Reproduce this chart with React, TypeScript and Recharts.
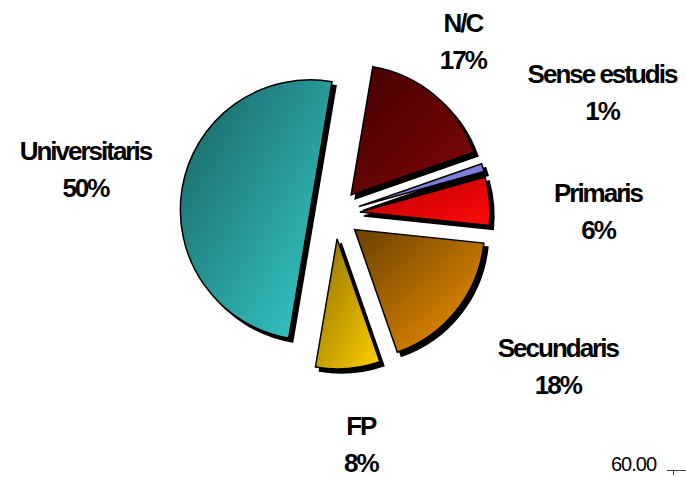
import { PieChart, Pie, Cell } from 'recharts'

// share of respondents by level of studies (%)
const categories = ['N/C', 'Sense estudis', 'Primaris', 'Secundaris', 'FP', 'Universitaris']
const shares = [17, 1, 6, 18, 8, 50]
const percentLabels = ['17%', '1%', '6%', '18%', '8%', '50%']

// dark -> light diagonal shading per slice
const gradientStops = [
  ['#450000', '#800808'],
  ['#6a6ac8', '#9090f0'],
  ['#b80000', '#ff0a0a'],
  ['#6a4000', '#f59400'],
  ['#8c6e00', '#ffcf00'],
  ['#1a6262', '#36cdcd'],
]

// label placement (distance from label origin, angle nudge in degrees)
const labelRadius = [217, 295, 264, 270, 230, 253]
const labelNudge = [3.8, 7.3, -3.9, 4.4, 1.9, -1.1]

const data = categories.map((name, i) => ({ name, value: shares[i] }))

const CX = 330
const CY = 209
const LABEL_CX = 334
const LABEL_CY = 215
const R = 130
const EXPLODE = 25
const START = 80.4
const SHADOW = 4

const total = shares.reduce((a, b) => a + b, 0)
const midAngles = shares.map((v, i) => {
  const before = shares.slice(0, i).reduce((a, b) => a + b, 0)
  return START - ((before + v / 2) / total) * 360
})
const offsets = midAngles.map((a) => ({
  dx: EXPLODE * Math.cos((a * Math.PI) / 180),
  dy: -EXPLODE * Math.sin((a * Math.PI) / 180),
}))

const font = '"Liberation Sans", Arial, sans-serif'

function SliceLabel(props: any, i: number) {
  const name = props.name ?? props.payload?.name
  if (name !== categories[i]) return <g />
  const a = ((props.midAngle + labelNudge[i]) * Math.PI) / 180
  const x = LABEL_CX + labelRadius[i] * Math.cos(a)
  const y = LABEL_CY - labelRadius[i] * Math.sin(a)
  const style = { fontFamily: font, fontWeight: 700, fontSize: 26, letterSpacing: -2 }
  return (
    <g>
      <text x={x} y={y - 18 + 9.5} textAnchor="middle" fill="#000" style={style}>
        {categories[i]}
      </text>
      <text x={x} y={y + 19 + 9.5} textAnchor="middle" fill="#000" style={style}>
        {percentLabels[i]}
      </text>
    </g>
  )
}

export default function App() {
  return (
    <div style={{ position: 'absolute', left: 0, top: 0, width: 686, height: 477, background: '#fff', overflow: 'hidden' }}>
      <PieChart width={686} height={477}>
        <defs>
          {gradientStops.map(([from, to], i) => (
            <linearGradient key={i} id={`slice-${i}`} x1="0" y1="0" x2="1" y2="1">
              <stop offset="0%" stopColor={from} />
              <stop offset="100%" stopColor={to} />
            </linearGradient>
          ))}
        </defs>

        {/* shadows */}
        {categories.map((c, i) => (
          <Pie
            key={`shadow-${c}`}
            data={data}
            dataKey="value"
            nameKey="name"
            cx={CX + offsets[i].dx + SHADOW}
            cy={CY + offsets[i].dy + SHADOW}
            outerRadius={R}
            startAngle={START}
            endAngle={START - 360}
            isAnimationActive={false}
            labelLine={false}
          >
            {data.map((d, j) => (
              <Cell key={d.name} fill={j === i ? '#000' : 'none'} stroke={j === i ? '#000' : 'none'} strokeWidth={1.5} />
            ))}
          </Pie>
        ))}

        {/* exploded slices */}
        {categories.map((c, i) => (
          <Pie
            key={`slice-${c}`}
            data={data}
            dataKey="value"
            nameKey="name"
            cx={CX + offsets[i].dx}
            cy={CY + offsets[i].dy}
            outerRadius={R}
            startAngle={START}
            endAngle={START - 360}
            isAnimationActive={false}
            labelLine={false}
            label={(p: any) => SliceLabel(p, i)}
          >
            {data.map((d, j) => (
              <Cell
                key={d.name}
                fill={j === i ? `url(#slice-${j})` : 'none'}
                stroke={j === i ? '#000' : 'none'}
                strokeWidth={1.5}
              />
            ))}
          </Pie>
        ))}
      </PieChart>

      <div
        style={{
          position: 'absolute',
          left: 611,
          top: 453,
          fontFamily: font,
          fontSize: 20,
          lineHeight: '23px',
          letterSpacing: -1,
          color: '#000',
        }}
      >
        60.00
      </div>
      <div style={{ position: 'absolute', left: 667, top: 470, width: 19, borderTop: '1px solid #444' }} />
      <div style={{ position: 'absolute', left: 673, top: 470, height: 5, borderLeft: '1px solid #444' }} />
    </div>
  )
}
